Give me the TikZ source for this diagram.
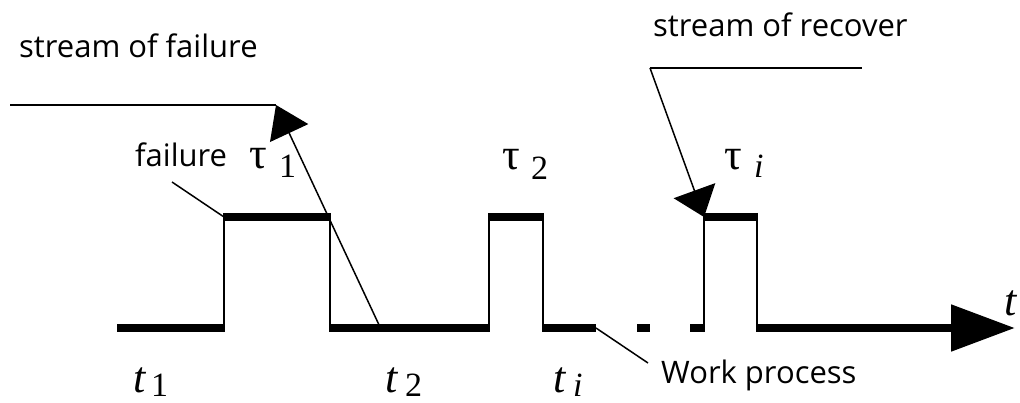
\documentclass[tikz,border=0pt]{standalone}
\usepackage{fontspec}
\setmainfont{Liberation Serif}
\newfontfamily\labsans{Open Sans}
\usetikzlibrary{arrows.meta}
\newcommand\mainsz{\fontsize{44}{44}\selectfont}
\newcommand\subsz{\fontsize{34}{34}\selectfont}
\newcommand\sublbl[4]{\makebox[0pt][l]{\mainsz #1}\kern#2pt\raisebox{#3pt}{\subsz #4}}
\begin{document}
\begin{tikzpicture}[x=1pt,y=-1pt,
  lvl/.style={line width=8.5pt},
  edgeline/.style={line width=2.5pt,shorten <=-4pt,shorten >=-4pt},
  thinline/.style={line width=1.5pt},
  streamline/.style={line width=2pt},
  lbl/.style={inner sep=0pt,anchor=base west,font=\labsans\fontsize{31}{34}\selectfont},
  mlbl/.style={inner sep=0pt,anchor=base west},
]
\useasboundingbox (0,0) rectangle (1020,403);
% signal coordinates
\coordinate (a0) at (117,328);
\coordinate (a1) at (224,328);
\coordinate (a2) at (224,217);
\coordinate (a3) at (330,217);
\coordinate (a4) at (330,328);
\coordinate (a5) at (489,328);
\coordinate (a6) at (489,217);
\coordinate (a7) at (543,217);
\coordinate (a8) at (543,328);
\coordinate (a9) at (596,328);
\coordinate (d1) at (637,328);
\coordinate (d2) at (650,328);
\coordinate (b0) at (690,328);
\coordinate (b1) at (704,328);
\coordinate (b2) at (704,217);
\coordinate (b3) at (757,217);
\coordinate (b4) at (757,328);
\coordinate (tip) at (1015,328);
% thick levels
\draw[lvl] (a0) -- (a1);
\draw[lvl] (a2) -- (a3);
\draw[lvl] (a4) -- (a5);
\draw[lvl] (a6) -- (a7);
\draw[lvl] (a8) -- (a9);
\draw[lvl] (d1) -- (d2);
\draw[lvl] (b0) -- (b1);
\draw[lvl] (b2) -- (b3);
\draw[lvl,-{Triangle[length=64pt,width=45pt]}] (b4) -- (tip);
% transitions
\draw[edgeline] (a1) -- (a2);
\draw[edgeline] (a3) -- (a4);
\draw[edgeline] (a5) -- (a6);
\draw[edgeline] (a7) -- (a8);
\draw[edgeline] (b1) -- (b2);
\draw[edgeline] (b3) -- (b4);
% streams
\coordinate (fs0) at (10,105);
\coordinate (fs1) at (276,105);
\coordinate (fbase) at (380,327);
\draw[streamline] (fs0) -- (fs1);
\draw[thinline,-{Triangle[length=31pt,width=42pt]}] (fbase) -- (fs1);
\coordinate (rs0) at (650,68);
\coordinate (rs1) at (862,68);
\draw[streamline] (rs0) -- (rs1);
\draw[thinline,-{Triangle[length=28pt,width=44pt]}] (rs0) -- (b2);
% leaders
\coordinate (fl) at (172,182);
\draw[thinline] (fl) -- (a2);
\coordinate (wl) at (648,363);
\draw[thinline] (a9) -- (wl);
% texts
\node[lbl] (sf) at (19,58) {stream of failure};
\node[lbl] (sr) at (653,37) {stream of recover};
\node[lbl] (fa) at (135,167) {failure};
\node[lbl] (wp) at (661,383) {Work process};
\node[mlbl] (tau1) at (249,169) {\sublbl{τ}{30}{-9}{1}};
\node[mlbl] (tau2) at (502,170) {\sublbl{τ}{29}{-10}{2}};
\node[mlbl] (taui) at (724,170) {\sublbl{τ}{30}{-8}{\itshape i}};
\node[mlbl] (t1) at (133,392) {\sublbl{\itshape t}{18}{-4}{1}};
\node[mlbl] (t2) at (385,392) {\sublbl{\itshape t}{20}{-4}{2}};
\node[mlbl] (ti) at (553,392) {\sublbl{\itshape t}{20}{-4}{\itshape i}};
\node[mlbl] (tend) at (1004,316) {\mainsz\itshape t};
\end{tikzpicture}
\end{document}
